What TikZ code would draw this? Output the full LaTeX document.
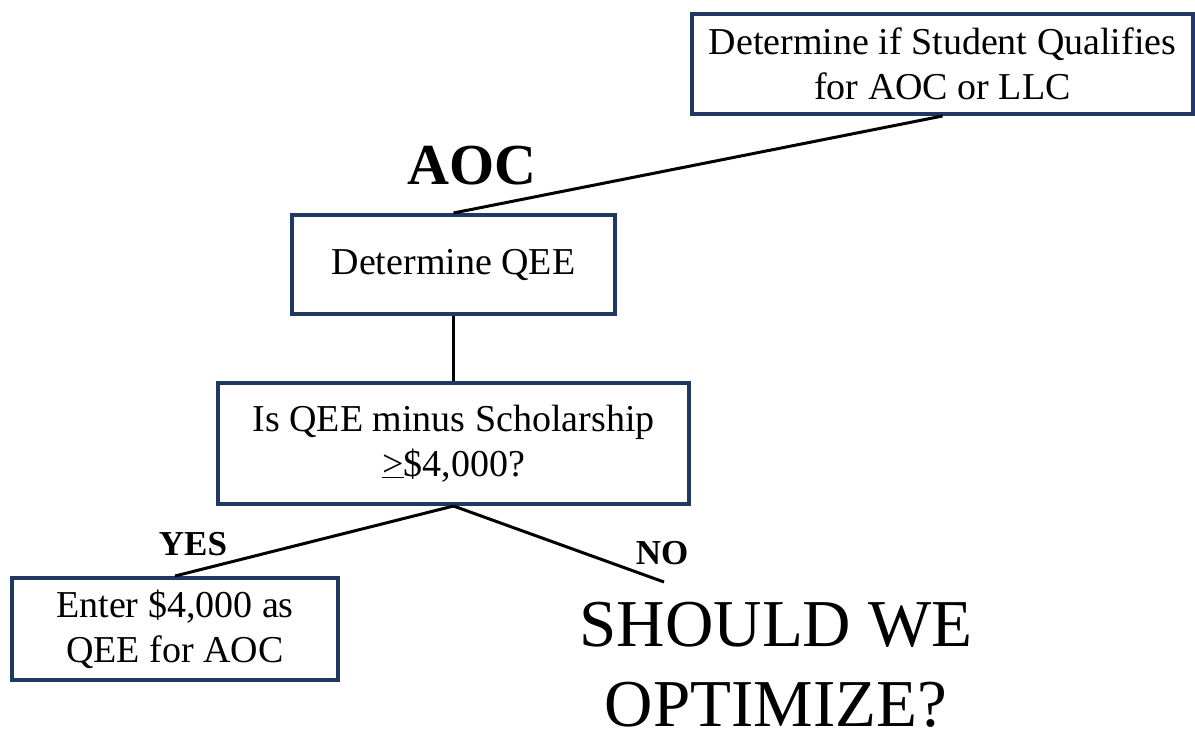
\documentclass[tikz,border=0pt]{standalone}
\usepackage{fontspec}
\setmainfont{Liberation Serif}
\definecolor{boxnavy}{RGB}{31,56,100}

\begin{document}
\begin{tikzpicture}[x=1pt,y=-1pt,
		qbox/.style={draw=boxnavy, line width=4pt, align=center, inner sep=0pt,
			font=\fontsize{38}{45}\selectfont},
		branch/.style={line width=3pt},
		tag/.style={font=\fontsize{35}{40}\selectfont\bfseries}]
	\useasboundingbox (0,0) rectangle (1195,737);
	\node[qbox, minimum width=501pt, minimum height=100pt] (qualify) at (942.5,64)
		{Determine if Student Qualifies\\for AOC or LLC};
	\node[qbox, minimum width=323pt, minimum height=99pt] (qee) at (453.5,264.5)
		{Determine QEE};
	\node[qbox, minimum width=471pt, minimum height=121pt] (check) at (453.5,443.5)
		{Is QEE minus Scholarship\\\underline{>}\$4,000?};
	\node[qbox, minimum width=326pt, minimum height=102pt] (enter) at (175,629)
		{Enter \$4,000 as\\QEE for AOC};
	\node[font=\fontsize{58}{60}\selectfont\bfseries] (aoc) at (472,166) {AOC};
	\node[tag] (yes) at (193,544) {YES};
	\node[tag] (no) at (662,553) {NO};
	\node[align=center, font=\fontsize{67}{80}\selectfont] (optimize) at (776,665)
		{SHOULD WE\\OPTIMIZE?};
	\coordinate (noend) at (664,582);
	% connectors
	\draw[branch] (qualify.south) -- (qee.north);
	\draw[branch] (qee.south) -- (check.north);
	\draw[branch] (check.south) -- (enter.north);
	\draw[branch] (check.south) -- (noend);
\end{tikzpicture}
\end{document}
